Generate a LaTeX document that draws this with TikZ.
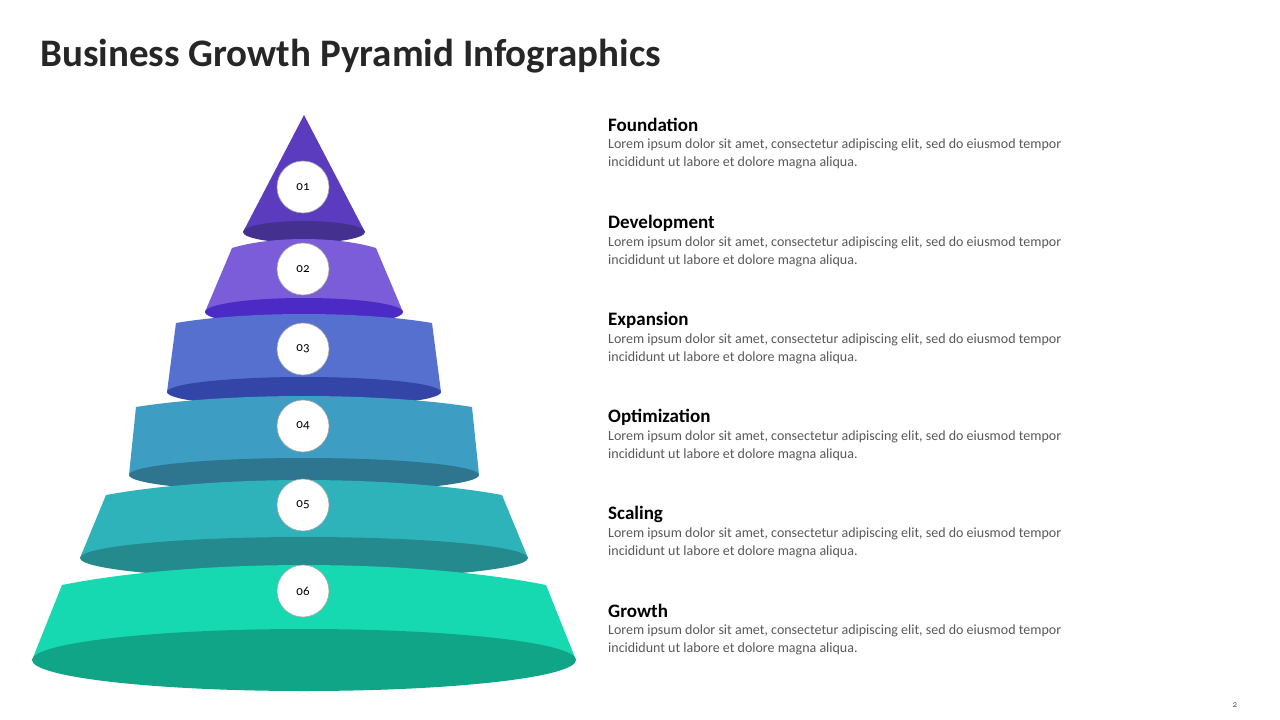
\documentclass[tikz,border=0pt]{standalone}
\usepackage{fontspec}
\setmainfont{Carlito}[Numbers=OldStyle]
\definecolor{titlec}{HTML}{262626}
\definecolor{bodyc}{HTML}{595959}
\definecolor{b1}{HTML}{5B3CBF}\definecolor{d1}{HTML}{44308F}
\definecolor{b2}{HTML}{7B5CD9}\definecolor{d2}{HTML}{4B2AC6}
\definecolor{b3}{HTML}{5570CF}\definecolor{d3}{HTML}{3346A8}
\definecolor{b4}{HTML}{3D9DC2}\definecolor{d4}{HTML}{2E7590}
\definecolor{b5}{HTML}{2FB3BB}\definecolor{d5}{HTML}{248A8D}
\definecolor{b6}{HTML}{17D9B1}\definecolor{d6}{HTML}{10A586}
\begin{document}
\begin{tikzpicture}[x=1pt,y=-1pt,
  numc/.style={circle,draw=gray!70,line width=0.6pt,fill=white,minimum size=52pt,inner sep=0pt,font=\fontsize{13}{13}\selectfont,text=black},
  head/.style={anchor=west,inner sep=0pt,font=\bfseries\fontsize{19}{19}\selectfont,text=black},
  desc/.style={anchor=north west,inner sep=0pt,align=left,font=\fontsize{14}{18}\selectfont,text=bodyc}]
\useasboundingbox[fill=white] (0,0) rectangle (1280,720);
\node[anchor=west,inner sep=0pt,font=\bfseries\fontsize{39}{39}\selectfont,text=titlec] (title) at (40,56) {Business Growth Pyramid Infographics};
\fill[b1] (304,115) -- (365,232) -- (243,232) -- cycle;
\fill[d1] (304,232) ellipse [x radius=61,y radius=11];
\foreach \yt/\wt/\ht/\yb/\wb/\hb/\c in {
  248/72/9/312/99/14/2,
  323/128/9/392/137/15/3,
  407/168/11/475/175/17/4,
  495/198/15/558/224/21/5,
  585/242/20/660/272/31/6}{
  \fill[b\c] (304-\wt,\yt) .. controls (304-\wt*0.45,\yt-\ht*1.33) and (304+\wt*0.45,\yt-\ht*1.33) .. (304+\wt,\yt) -- (304+\wb,\yb) -- (304-\wb,\yb) -- cycle;
  \fill[d\c] (304,\yb) ellipse [x radius=\wb,y radius=\hb];
}
\node[numc] (n1) at (303,187) {01};
\node[numc] (n2) at (303,269) {02};
\node[numc] (n3) at (303,349) {03};
\node[numc] (n4) at (303,426) {04};
\node[numc] (n5) at (303,505) {05};
\node[numc] (n6) at (303,591) {06};
\foreach \i/\y/\t in {1/125/Foundation,2/223/Development,3/320/Expansion,4/417/Optimization,5/514/Scaling,6/611/Growth}{
  \node[head] (h\i) at (608,\y) {\t};
  \node[desc] (d\i) at (608,\y+14) {Lorem ipsum dolor sit amet, consectetur adipiscing elit, sed do eiusmod tempor\\incididunt ut labore et dolore magna aliqua.};
}
\node[inner sep=0pt,font=\fontsize{9}{9}\selectfont,text=bodyc] (pg) at (1235,705) {2};
\end{tikzpicture}
\end{document}
